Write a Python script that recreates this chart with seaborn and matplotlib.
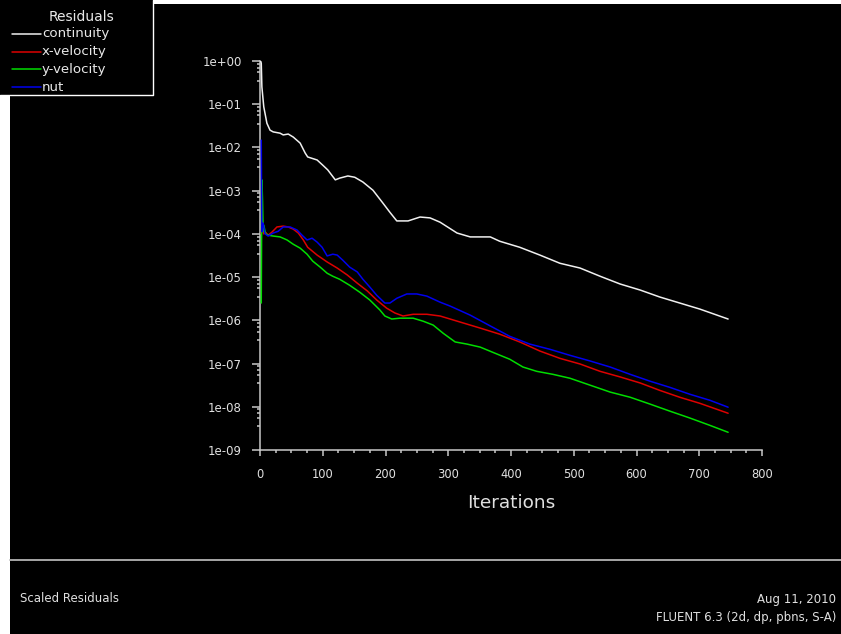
import numpy as np
import pandas as pd
import matplotlib
matplotlib.use("Agg")
import matplotlib.pyplot as plt
import matplotlib.ticker as mticker
from matplotlib.patches import Rectangle
from matplotlib.lines import Line2D
import seaborn as sns

# residual histories (iteration, log10 of scaled residual)
cont_iter = [1, 2, 3, 6, 11, 16, 21, 32, 37, 45, 53, 64, 72, 76, 91, 100, 108, 120, 127, 140,
             151, 164, 180, 196, 207, 218, 236, 255, 271, 287, 314, 335, 367, 382, 414, 446,
             478, 510, 542, 574, 606, 637, 669, 701, 746]
cont_log = [0.0, -0.05, -0.60, -1.06, -1.44, -1.60, -1.64, -1.67, -1.71, -1.69, -1.76, -1.90,
            -2.13, -2.22, -2.29, -2.41, -2.52, -2.75, -2.71, -2.66, -2.69, -2.80, -2.99, -3.29,
            -3.50, -3.70, -3.70, -3.61, -3.63, -3.73, -3.98, -4.07, -4.07, -4.17, -4.31, -4.49,
            -4.68, -4.79, -4.98, -5.16, -5.30, -5.46, -5.60, -5.74, -5.97]

xvel_iter = [2, 4, 6, 8, 13, 19, 27, 37, 45, 53, 61, 69, 76, 91, 107, 123, 139, 155, 171, 186,
             202, 215, 228, 244, 266, 287, 319, 351, 382, 414, 446, 478, 510, 542, 574, 606,
             637, 669, 701, 746]
xvel_log = [-4.00, -3.73, -4.00, -3.95, -4.03, -3.96, -3.84, -3.82, -3.84, -3.89, -3.98, -4.14,
            -4.31, -4.49, -4.65, -4.79, -4.95, -5.14, -5.32, -5.53, -5.72, -5.83, -5.90, -5.86,
            -5.86, -5.90, -6.04, -6.18, -6.32, -6.50, -6.71, -6.88, -7.01, -7.18, -7.31, -7.45,
            -7.62, -7.78, -7.92, -8.15]

yvel_iter = [2, 3, 4, 5, 6, 9, 13, 21, 32, 43, 53, 64, 75, 84, 96, 107, 116, 127, 143, 159, 175,
             191, 199, 210, 223, 244, 260, 276, 292, 311, 330, 351, 371, 398, 419, 441, 467, 494,
             526, 558, 590, 622, 653, 685, 717, 746]
yvel_log = [-5.60, -2.75, -3.20, -3.95, -3.80, -4.00, -4.03, -4.05, -4.07, -4.14, -4.24, -4.33,
            -4.47, -4.63, -4.77, -4.91, -4.98, -5.05, -5.19, -5.35, -5.53, -5.76, -5.90, -5.97,
            -5.95, -5.95, -6.02, -6.11, -6.30, -6.50, -6.55, -6.62, -6.74, -6.90, -7.08, -7.18,
            -7.25, -7.34, -7.50, -7.66, -7.78, -7.94, -8.10, -8.26, -8.43, -8.59]

nut_iter = [2, 3, 4, 5, 8, 13, 21, 29, 37, 48, 59, 67, 75, 83, 91, 99, 107, 116, 123, 132, 143,
            155, 164, 175, 186, 199, 207, 218, 234, 250, 266, 287, 303, 335, 367, 398, 430, 462,
            494, 526, 558, 590, 622, 653, 685, 717, 746]
nut_log = [-1.83, -3.95, -3.80, -3.75, -4.00, -4.05, -3.98, -3.94, -3.84, -3.84, -3.91, -4.03,
           -4.14, -4.10, -4.19, -4.31, -4.51, -4.47, -4.49, -4.61, -4.77, -4.88, -5.05, -5.23,
           -5.42, -5.60, -5.60, -5.49, -5.39, -5.39, -5.44, -5.58, -5.67, -5.88, -6.13, -6.37,
           -6.55, -6.67, -6.81, -6.94, -7.08, -7.25, -7.41, -7.55, -7.71, -7.85, -8.01]

series = ["continuity", "x-velocity", "y-velocity", "nut"]
colors = ["#f0f0f0", "#dd0000", "#00dd00", "#0000ee"]

frames = []
for name, it, lg in zip(series, [cont_iter, xvel_iter, yvel_iter, nut_iter],
                        [cont_log, xvel_log, yvel_log, nut_log]):
    frames.append(pd.DataFrame({"iter": it, "res": 10.0 ** np.array(lg), "eq": name}))
df = pd.concat(frames, ignore_index=True)

sns.set_style("ticks")
plt.rcParams["font.family"] = ["DejaVu Sans"]

W, H = 841, 634
fig = plt.figure(figsize=(W / 100, H / 100), dpi=100, facecolor="white")


def fx(px):
    return px / W


def fy(py):
    return 1 - py / H


# black screen area, white strips at left and top
fig.add_artist(Rectangle((fx(10), 0), 1 - fx(10), fy(4), transform=fig.transFigure,
                         facecolor="black", edgecolor="none", zorder=-10))
# separator above footer
fig.add_artist(Line2D([fx(10), 1], [fy(560), fy(560)], transform=fig.transFigure,
                      color="#b4b4b4", lw=1.3))

ax = fig.add_axes([fx(260), fy(450), fx(502), 389 / H])
ax.set_facecolor("black")

sns.lineplot(data=df, x="iter", y="res", hue="eq", hue_order=series,
             palette=dict(zip(series, colors)), estimator=None, sort=False,
             linewidth=1.1, legend=False, ax=ax)
for ln in ax.lines:
    ln.set_zorder(3)

ax.set_yscale("log")
ax.set_xlim(0, 800)
ax.set_ylim(1e-9, 1)
ax.xaxis.set_major_locator(mticker.MultipleLocator(100))
ax.xaxis.set_minor_locator(mticker.MultipleLocator(25))
ax.yaxis.set_major_locator(mticker.LogLocator(base=10, numticks=20))
ax.yaxis.set_minor_locator(mticker.LogLocator(base=10, subs=(3.5, 5.5, 7.0, 8.7), numticks=20))
ax.yaxis.set_major_formatter(mticker.FuncFormatter(lambda v, p: f"{v:.0e}"))
ax.yaxis.set_minor_formatter(mticker.NullFormatter())

axis_col = "#c8c8c8"
txt_col = "#e0e0e0"
for s in ["top", "right"]:
    ax.spines[s].set_visible(False)
for s in ["left", "bottom"]:
    ax.spines[s].set_color(axis_col)
    ax.spines[s].set_linewidth(1.1)

ax.tick_params(axis="y", which="major", direction="out", length=6, width=1.1,
               color=axis_col, labelcolor=txt_col, labelsize=8.5, pad=7)
ax.tick_params(axis="y", which="minor", direction="out", length=2.5, width=1.1, color=axis_col)
ax.tick_params(axis="x", which="major", direction="out", length=4, width=1.1,
               color=axis_col, labelcolor=txt_col, labelsize=8.3, pad=9)
ax.tick_params(axis="x", which="minor", direction="out", length=2.5, width=1.1, color=axis_col)

ax.set_xlabel("Iterations", color=txt_col, fontsize=13.3, labelpad=9)
ax.set_ylabel("")

# legend panel in the top-left corner, laid out like the FLUENT one
fig.add_artist(Rectangle((0, fy(95)), fx(153), 95 / H, transform=fig.transFigure,
                         facecolor="black", edgecolor="none", zorder=5))
fig.add_artist(Line2D([0, fx(153), fx(153)], [fy(95), fy(95), 1], transform=fig.transFigure,
                      color="white", lw=1.0, zorder=6))
fig.text(fx(81), fy(17), "Residuals", color="#e8e8e8", fontsize=10, ha="center",
         va="center", zorder=7)
for i, (name, col) in enumerate(zip(series, colors)):
    row = 34 + i * 17.7
    fig.add_artist(Line2D([fx(12), fx(41)], [fy(row), fy(row)], transform=fig.transFigure,
                          color=col, lw=1.1, zorder=7))
    fig.text(fx(42), fy(row), name, color="#e8e8e8", fontsize=9.6, ha="left",
             va="center", zorder=7)

fig.text(fx(20), fy(599), "Scaled Residuals", color=txt_col, fontsize=8.5,
         ha="left", va="center")
fig.text(fx(836), fy(599), "Aug 11, 2010", color=txt_col, fontsize=8.5,
         ha="right", va="center")
fig.text(fx(836), fy(618), "FLUENT 6.3 (2d, dp, pbns, S-A)", color=txt_col, fontsize=8.5,
         ha="right", va="center")

fig.savefig("out.png", dpi=100, facecolor="white")
